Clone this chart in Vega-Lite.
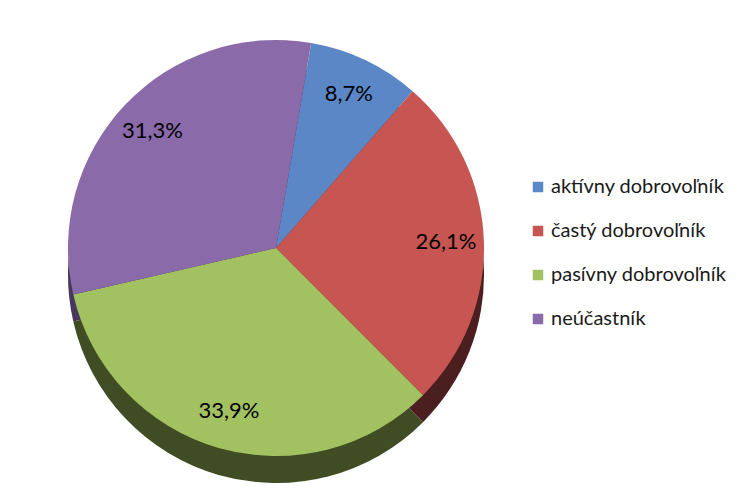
{
  "$schema": "https://vega.github.io/schema/vega-lite/v6.json",
  "width": 552,
  "height": 496,
  "padding": 0,
  "background": "white",
  "config": {"view": {"stroke": null}, "font": "Lato"},
  "data": {"values": [
    {"kategoria": "aktívny dobrovoľník", "podiel": 8.7, "popis": "8,7%", "poradie": 1},
    {"kategoria": "častý dobrovoľník", "podiel": 26.1, "popis": "26,1%", "poradie": 2},
    {"kategoria": "pasívny dobrovoľník", "podiel": 33.9, "popis": "33,9%", "poradie": 3},
    {"kategoria": "neúčastník", "podiel": 31.3, "popis": "31,3%", "poradie": 4}
  ]},
  "encoding": {
    "theta": {"field": "podiel", "type": "quantitative", "stack": true, "scale": {"range": [0.17, 6.4532]}},
    "order": {"field": "poradie", "type": "ordinal"}
  },
  "layer": [
    {
      "mark": {"type": "arc", "outerRadius": 208, "yOffset": 27, "stroke": null},
      "encoding": {
        "color": {"field": "kategoria", "type": "nominal", "legend": null,
          "scale": {"domain": ["aktívny dobrovoľník", "častý dobrovoľník", "pasívny dobrovoľník", "neúčastník"],
                    "range": ["#2B4A70", "#4B1F1F", "#404D24", "#47375C"]}}
      }
    },
    {
      "mark": {"type": "arc", "outerRadius": 208, "stroke": null},
      "encoding": {
        "color": {"field": "kategoria", "type": "nominal",
          "scale": {"domain": ["aktívny dobrovoľník", "častý dobrovoľník", "pasívny dobrovoľník", "neúčastník"],
                    "range": ["#5B87C6", "#C75552", "#A2C160", "#8A6AA8"]},
          "legend": {"orient": "none", "legendX": 528, "legendY": 177, "title": null,
            "symbolType": "square", "symbolSize": 110, "symbolStrokeWidth": 0,
            "labelFontSize": 20, "labelFont": "Lato", "labelColor": "#1a1a1a",
            "labelOffset": 3, "rowPadding": 24, "padding": 0, "labelLimit": 300}}
      }
    },
    {
      "mark": {"type": "text", "radius": 170, "fontSize": 22, "font": "Lato", "color": "#000000"},
      "encoding": {"text": {"field": "popis", "type": "nominal"}}
    }
  ],
  "resolve": {"scale": {"color": "independent"}}
}
